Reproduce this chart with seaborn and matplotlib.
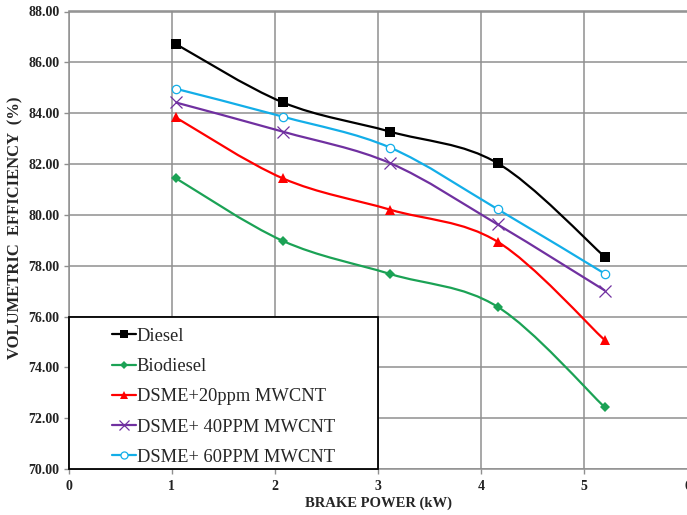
import numpy as np
import pandas as pd
import matplotlib
matplotlib.use("Agg")
import matplotlib.pyplot as plt
from matplotlib.path import Path
from matplotlib.patches import PathPatch, Rectangle
from matplotlib.lines import Line2D
import seaborn as sns

# Brake power (kW) and volumetric efficiency (%) for each fuel
power = [1.04, 2.08, 3.12, 4.16, 5.20]
diesel = [86.72, 84.42, 83.27, 82.03, 78.34]
biodiesel = [81.44, 78.97, 77.67, 76.38, 72.42]
dsme20 = [83.83, 81.43, 80.20, 78.94, 75.06]
dsme40 = [84.42, 83.27, 82.03, 79.62, 77.02]
dsme60 = [84.96, 83.86, 82.64, 80.22, 77.68]

series_names = ["Diesel", "Biodiesel", "DSME+20ppm MWCNT",
                "DSME+ 40PPM MWCNT", "DSME+ 60PPM MWCNT"]
series_values = [diesel, biodiesel, dsme20, dsme40, dsme60]

x_ticks = [0, 1, 2, 3, 4, 5, 6]
y_ticks = [70, 72, 74, 76, 78, 80, 82, 84, 86, 88]

styles = {
    "Diesel": dict(color="#000000", marker="s", ms=6.5, mfc="#000000", mew=0),
    "Biodiesel": dict(color="#1BA255", marker="D", ms=5, mfc="#1BA255", mew=0),
    "DSME+20ppm MWCNT": dict(color="#FF0000", marker="^", ms=7, mfc="#FF0000", mew=0),
    "DSME+ 40PPM MWCNT": dict(color="#7030A0", marker="x", ms=8, mfc="#7030A0", mew=0.9),
    "DSME+ 60PPM MWCNT": dict(color="#13AEE8", marker="o", ms=6, mfc="white", mew=0.9),
}

df = pd.DataFrame({
    "power": np.tile(power, len(series_names)),
    "eff": np.concatenate(series_values),
    "fuel": np.repeat(series_names, len(power)),
})

sns.set_theme(style="white")
plt.rcParams["font.family"] = ["Liberation Serif", "DejaVu Serif"]

fig = plt.figure(figsize=(6.87, 5.15), dpi=100)
ax = fig.add_axes([68.5 / 687, 46 / 515, 619 / 687, 457.5 / 515])


def smooth_path(xs, ys):
    """Cubic Bezier path through the points (Catmull-Rom style tangents)."""
    pts = np.column_stack([xs, ys]).astype(float)
    n = len(pts)
    verts = [pts[0]]
    codes = [Path.MOVETO]
    for i in range(n - 1):
        p0 = pts[i - 1] if i > 0 else pts[i]
        p1 = pts[i]
        p2 = pts[i + 1]
        p3 = pts[i + 2] if i + 2 < n else pts[i + 1]
        c1 = p1 + (p2 - p0) / 6.0
        c2 = p2 - (p3 - p1) / 6.0
        verts += [c1, c2, p2]
        codes += [Path.CURVE4] * 3
    return Path(verts, codes)


handles = []
for name in series_names:
    st = styles[name]
    sub = df[df["fuel"] == name]
    patch = PathPatch(smooth_path(sub["power"].values, sub["eff"].values),
                      facecolor="none", edgecolor=st["color"], lw=1.6,
                      transform=ax.transData, zorder=3)
    ax.add_patch(patch)
    sns.lineplot(data=sub, x="power", y="eff", ax=ax, color=st["color"],
                 linestyle="none", marker=st["marker"], markersize=st["ms"],
                 markerfacecolor=st["mfc"], markeredgecolor=st["color"],
                 markeredgewidth=st["mew"], zorder=4, legend=False)
    handles.append(Line2D([], [], color=st["color"], lw=1.6, marker=st["marker"],
                          markersize=st["ms"] * 0.85, markerfacecolor=st["mfc"],
                          markeredgecolor=st["color"], markeredgewidth=st["mew"]))

ax.set_xlim(0, 6)
ax.set_ylim(70, 88)
ax.set_xticks(x_ticks)
ax.set_yticks(y_ticks)
ax.set_xticklabels([str(t) for t in x_ticks])
ax.set_yticklabels([f"{t:.2f}" for t in y_ticks])
ax.grid(True, color="#8f8f8f", lw=1.1)
ax.set_axisbelow(True)

for side in ["left", "bottom", "top"]:
    ax.spines[side].set_visible(True)
    ax.spines[side].set_color("#8f8f8f")
    ax.spines[side].set_linewidth(1.1)
ax.spines["right"].set_visible(False)

ax.tick_params(axis="both", which="major", length=3.5, width=1.0, color="#8f8f8f",
               direction="out", labelsize=10, pad=3, left=True, bottom=True)
ax.tick_params(axis="x", pad=4.5)
for lbl in ax.get_xticklabels() + ax.get_yticklabels():
    lbl.set_fontweight("bold")
    lbl.set_color("#222222")

ax.set_xlabel("BRAKE POWER (kW)", fontsize=10.5, fontweight="bold", labelpad=2.5)
ax.set_ylabel("VOLUMETRIC  EFFICIENCY  (%)", fontsize=12, fontweight="bold")
ax.yaxis.set_label_coords(-0.0735, 0.527)

# Legend box sits in the lower-left corner of the plot area
box = Rectangle((0, 70), 3, 6, facecolor="white", edgecolor="black", lw=1.3,
                transform=ax.transData, zorder=5, clip_on=False)
ax.add_patch(box)
leg = ax.legend(handles, series_names, loc="center", bbox_to_anchor=(0, 69.84, 3, 6),
                bbox_transform=ax.transData, frameon=False,
                prop={"family": ["Liberation Serif"], "size": 13.3},
                handlelength=1.3, handletextpad=0.05, labelspacing=0.72,
                borderaxespad=0)
leg.set_zorder(6)

fig.savefig("out.png", dpi=100)
